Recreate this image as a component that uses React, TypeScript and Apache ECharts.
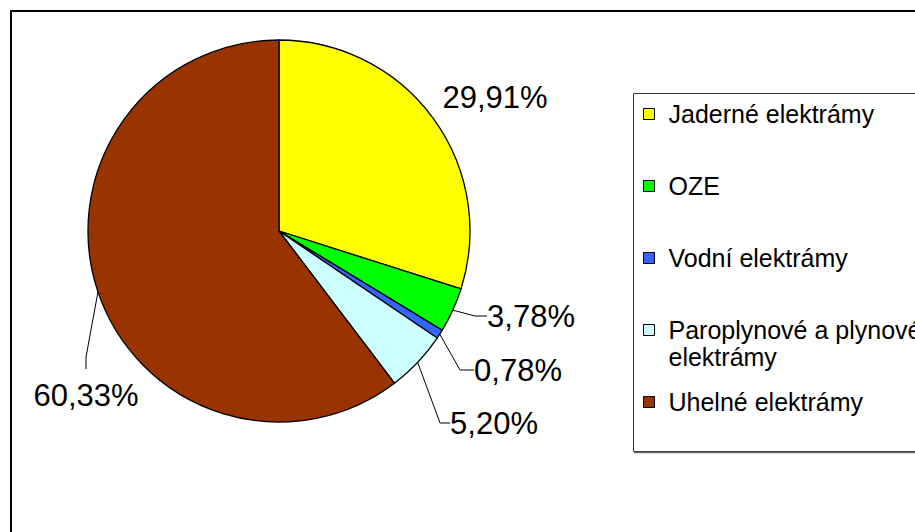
import React, { useEffect, useRef } from "react";
import * as echarts from "echarts";

const categories = [
  "Jaderné elektrámy",
  "OZE",
  "Vodní elektrámy",
  "Paroplynové a plynové elektrámy",
  "Uhelné elektrámy",
];
const values = [29.91, 3.78, 0.78, 5.2, 60.33];
const legendLabels = [
  "Jaderné elektrámy",
  "OZE",
  "Vodní elektrámy",
  "Paroplynové a plynové\nelektrámy",
  "Uhelné elektrámy",
];
const colors = ["#FFFF00", "#00FF00", "#3366FF", "#CCFFFF", "#993300"];

// label layout (centre of each percentage label, px)
const labelX = [495, 531, 518, 494, 86];
const labelY = [97, 316, 370, 423, 395];
const legendItemY = [114, 186, 258, 330, 402];

const FONT = "'Liberation Sans', Arial, sans-serif";

export default function App() {
  const ref = useRef<HTMLDivElement>(null);
  useEffect(() => {
    if (!ref.current) return;
    const chart = echarts.init(ref.current, null, { renderer: "svg" });
    const lh = 27;
    const legends = categories.map((name, i) => {
      const multi = legendLabels[i].includes("\n");
      return {
        show: true,
        data: [name],
        orient: "vertical",
        left: 643,
        top: multi ? legendItemY[i] - 40.5 : legendItemY[i] - lh / 2,
        padding: 0,
        itemWidth: 11,
        itemHeight: 11,
        icon: "rect",
        selectedMode: false,
        itemStyle: { borderColor: "#000", borderWidth: 1 },
        // an empty first line keeps the first text line level with the marker
        formatter: () => (multi ? "\n" + legendLabels[i] : legendLabels[i]),
        textStyle: {
          fontFamily: FONT,
          fontSize: 25,
          color: "#000",
          lineHeight: lh,
          padding: [0, 0, 0, 9],
        },
      };
    });
    chart.setOption({
      animation: false,
      backgroundColor: "#fff",
      color: colors,
      legend: legends,
      graphic: [
        {
          type: "rect",
          shape: { x: 11, y: 11, width: 2000, height: 2000 },
          style: { fill: "none", stroke: "#000", lineWidth: 2 },
          silent: true,
        },
        {
          type: "rect",
          shape: { x: 633.5, y: 93.5, width: 600, height: 358 },
          style: { fill: "none", stroke: "#333", lineWidth: 1 },
          silent: true,
          z: -1,
        },
        {
          type: "line",
          shape: { x1: 634, y1: 452.5, x2: 1000, y2: 452.5 },
          style: { stroke: "#666", lineWidth: 1.5 },
          silent: true,
        },
      ],
      series: [
        {
          type: "pie",
          center: [279, 231],
          radius: 191,
          startAngle: 90,
          clockwise: true,
          silent: true,
          avoidLabelOverlap: false,
          itemStyle: { borderColor: "#000", borderWidth: 1.3 },
          label: {
            show: true,
            position: "outside",
            fontFamily: FONT,
            fontSize: 31,
            color: "#000",
            padding: [0, 6],
            formatter: (p: any) =>
              p.value.toFixed(2).replace(".", ",") + "%",
          },
          labelLine: {
            show: true,
            length: 8,
            length2: 12,
            smooth: false,
            lineStyle: { color: "#000", width: 1 },
          },
          labelLayout: (params: any) => ({
            x: labelX[params.dataIndex],
            y: labelY[params.dataIndex],
            align: "center",
            verticalAlign: "middle",
          }),
          data: categories.map((name, i) => {
            const item: any = { name, value: values[i] };
            if (i === 0) item.labelLine = { show: false };
            if (i === 2) item.labelLine = { length2: 14 };
            if (i === 3) item.labelLine = { length2: 10 };
            if (i === 4) item.label = { lineHeight: 52 };
            return item;
          }),
        },
      ],
    });
    return () => chart.dispose();
  }, []);
  return (
    <div
      ref={ref}
      style={{ position: "absolute", left: 0, top: 0, width: 915, height: 532 }}
    />
  );
}
